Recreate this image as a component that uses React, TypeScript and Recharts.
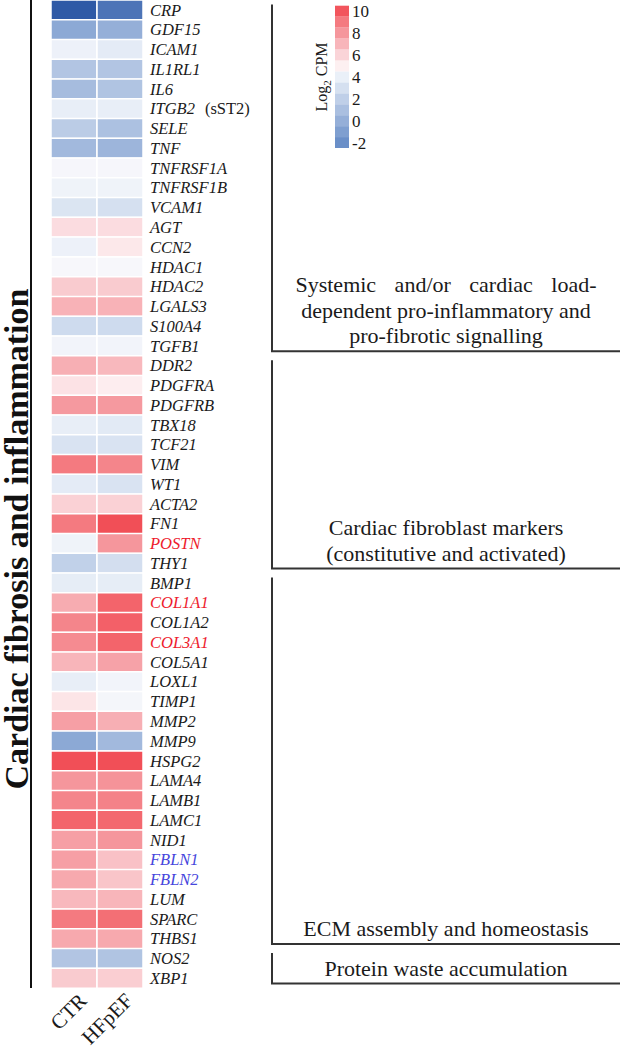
import React from 'react';
import { BarChart, Bar, XAxis, YAxis, Cell, ReferenceArea, ComposedChart, Scatter } from 'recharts';

const FONT = "'Liberation Serif', 'Times New Roman', serif";

const genes = ['CRP','GDF15','ICAM1','IL1RL1','IL6','ITGB2','SELE','TNF','TNFRSF1A','TNFRSF1B','VCAM1','AGT','CCN2','HDAC1','HDAC2','LGALS3','S100A4','TGFB1','DDR2','PDGFRA','PDGFRB','TBX18','TCF21','VIM','WT1','ACTA2','FN1','POSTN','THY1','BMP1','COL1A1','COL1A2','COL3A1','COL5A1','LOXL1','TIMP1','MMP2','MMP9','HSPG2','LAMA4','LAMB1','LAMC1','NID1','FBLN1','FBLN2','LUM','SPARC','THBS1','NOS2','XBP1'];

const groupNames = ['CTR', 'HFpEF'];

const ctrValues = [-4.8, -0.4, 4.1, 1.4, 0.8, 3.9, 1.8, 0.6, 4.45, 4.2, 3.3, 5.7, 4.1, 4.5, 6.3, 7.1, 2.7, 4.3, 7.2, 5.5, 7.9, 3.9, 3.2, 9.0, 3.7, 6.1, 9.0, 4.2, 2.1, 3.8, 7.3, 8.6, 8.4, 7.0, 3.9, 5.4, 7.7, -0.4, 10.3, 8.0, 8.6, 9.6, 7.7, 7.7, 7.4, 6.9, 9.0, 7.4, 1.4, 6.3];
const hfpefValues = [-3.4, 0.0, 3.7, 1.4, 1.3, 3.9, 1.1, 0.4, 4.45, 4.2, 3.0, 5.7, 5.3, 4.5, 6.3, 7.1, 2.7, 4.3, 6.9, 5.1, 7.9, 3.6, 3.2, 8.6, 3.2, 6.1, 10.3, 8.0, 2.9, 3.8, 9.6, 9.7, 9.6, 7.6, 4.3, 4.4, 7.2, 0.6, 10.3, 8.1, 8.7, 9.5, 8.0, 6.6, 6.5, 7.0, 9.3, 7.4, 1.3, 6.2];

const redLabels = ['POSTN', 'COL1A1', 'COL3A1'];
const blueLabels = ['FBLN1', 'FBLN2'];
const labelNotes: Record<string, string> = { ITGB2: '(sST2)' };

const sectionFirst = ['CRP', 'DDR2', 'BMP1', 'NOS2'];
const sectionLast = ['TGFB1', 'THY1', 'THBS1', 'XBP1'];
const sectionLabels = [
  ['Systemic and/or cardiac load-', 'dependent pro-inflammatory and', 'pro-fibrotic signalling'],
  ['Cardiac fibroblast markers', '(constitutive and activated)'],
  ['ECM assembly and homeostasis'],
  ['Protein waste accumulation'],
];
const title = 'Cardiac fibrosis and inflammation';

const legendSteps = [-2, -1, 0, 1, 2, 3, 4, 5, 6, 7, 8, 9, 10];
const legendTicks = [-2, 0, 2, 4, 6, 8, 10];

const colorStops: [number, string][] = [
  [-5, '#2b56a4'], [-2, '#6a8fc8'], [-1, '#7f9fd0'], [0, '#95afd8'], [1, '#aabfe0'],
  [2, '#bfcfe8'], [3, '#d5e0f0'], [4, '#eaf0f8'], [4.5, '#f7f7fb'], [5, '#fdf0f1'],
  [6, '#fad4d8'], [7, '#f8b5ba'], [8, '#f5969c'], [9, '#f47a80'], [10, '#f2555d'], [11, '#ef4249'],
];

function hexToRgb(h: string) {
  return [1, 3, 5].map((k) => parseInt(h.slice(k, k + 2), 16));
}

function heatColor(v: number) {
  if (v <= colorStops[0][0]) return colorStops[0][1];
  if (v >= colorStops[colorStops.length - 1][0]) return colorStops[colorStops.length - 1][1];
  for (let i = 0; i < colorStops.length - 1; i++) {
    const [a, ca] = colorStops[i];
    const [b, cb] = colorStops[i + 1];
    if (v >= a && v <= b) {
      const t = (v - a) / (b - a);
      const A = hexToRgb(ca);
      const B = hexToRgb(cb);
      const c = A.map((x, k) => Math.round(x + (B[k] - x) * t));
      return `rgb(${c[0]},${c[1]},${c[2]})`;
    }
  }
  return '#fff';
}

const rows = genes.map((g, i) => ({ gene: g, ctr: ctrValues[i], hfpef: hfpefValues[i] }));
const legendRows = legendSteps.map((v) => ({ x: 0.5, v }));

const GeneTick = (props: any) => {
  const { x, y, payload } = props;
  const g = payload.value as string;
  const fill = redLabels.includes(g) ? '#ee1c2e' : blueLabels.includes(g) ? '#4646dc' : '#1a1a1a';
  const note = labelNotes[g];
  return (
    <text x={x} y={y} dy="0.35em" fontFamily={FONT} fontSize={16.5} fontStyle="italic" fill={fill} textAnchor="start">
      {g}
      {note ? <tspan fontStyle="normal" dx={10} fill="#1a1a1a">{note}</tspan> : null}
    </text>
  );
};

const GroupTick = (props: any) => {
  const { x, y, payload } = props;
  const label = groupNames[Math.floor(payload.value)];
  const px = x + 14;
  const py = y + 14;
  return (
    <text x={px} y={py} textAnchor="end" transform={`rotate(-45 ${px} ${py})`} fontFamily={FONT} fontSize={21} fill="#1a1a1a">
      {label}
    </text>
  );
};

const makeBracket = (gi: number) => (p: any) => {
  const top = p.y + 4.5;
  const bottom = p.y + p.height - 4.5;
  const lines = sectionLabels[gi];
  return (
    <g>
      <path d={`M272,${top}V${bottom}H620`} stroke="#333" strokeWidth={2} fill="none" />
      {lines.map((t, k) => (
        <text key={k} x={446} y={bottom - 8 - (lines.length - 1 - k) * 25.5} textAnchor="middle" fontFamily={FONT} fontSize={22} fill="#1a1a1a" wordSpacing={gi === 0 && k === 0 ? 13 : 0}>
          {t}
        </text>
      ))}
    </g>
  );
};

const titleShape = (p: any) => {
  const cy = p.y + p.height / 2 + 45;
  return (
    <g>
      <path d={`M31,${p.y}V${p.y + p.height}`} stroke="#111" strokeWidth={2} fill="none" />
      <text x={28} y={cy} transform={`rotate(-90 28 ${cy})`} textAnchor="middle" fontFamily={FONT} fontWeight="bold" fontSize={34} fill="#111">
        {title}
      </text>
    </g>
  );
};

export default function App() {
  return (
    <div style={{ position: 'absolute', left: 0, top: 0, width: 620, height: 1050, background: '#fff' }}>
      <div style={{ position: 'absolute', left: 0, top: 0 }}>
        <BarChart width={620} height={1050} data={rows} layout="vertical" margin={{ top: 0, right: 0, bottom: 0, left: 51 }} barCategoryGap={0}>
          <XAxis type="number" domain={[0, 2]} ticks={[0.5, 1.5]} height={62} axisLine={false} tickLine={false} tickSize={0} tickMargin={0} interval={0} tick={<GroupTick />} />
          <YAxis type="category" dataKey="gene" orientation="right" width={477} axisLine={false} tickLine={false} tickSize={0} tickMargin={7} interval={0} tick={<GeneTick />} />
          <Bar dataKey={() => 1} stackId="s" isAnimationActive={false}>
            {rows.map((r, i) => (
              <Cell key={i} fill={heatColor(r.ctr)} stroke="#fff" strokeWidth={1.5} />
            ))}
          </Bar>
          <Bar dataKey={() => 1} stackId="s" isAnimationActive={false}>
            {rows.map((r, i) => (
              <Cell key={i} fill={heatColor(r.hfpef)} stroke="#fff" strokeWidth={1.5} />
            ))}
          </Bar>
          {sectionFirst.map((f, gi) => (
            <ReferenceArea key={gi} y1={f} y2={sectionLast[gi]} ifOverflow="visible" shape={makeBracket(gi)} />
          ))}
          <ReferenceArea y1={genes[0]} y2={genes[genes.length - 1]} ifOverflow="visible" shape={titleShape} />
        </BarChart>
      </div>
      <div style={{ position: 'absolute', left: 300, top: 0 }}>
        <ComposedChart width={100} height={160} margin={{ top: 5.7, right: 0, bottom: 12, left: 35 }} data={legendRows}>
          <XAxis type="number" dataKey="x" domain={[0, 1]} hide />
          <YAxis type="number" dataKey="v" domain={[-2.5, 10.5]} ticks={legendTicks} orientation="right" width={51} axisLine={false} tickLine={false} tickSize={0} tickMargin={3} interval={0} tick={{ fontSize: 17, fill: '#1a1a1a', fontFamily: FONT }} />
          {legendSteps.map((v) => (
            <ReferenceArea key={v} y1={v - 0.5} y2={v + 0.5} fill={heatColor(v)} fillOpacity={1} stroke="none" ifOverflow="visible" />
          ))}
          <Scatter data={legendRows} dataKey="v" isAnimationActive={false} shape={() => <g />} />
          <text x={27} y={77} transform="rotate(-90 27 77)" textAnchor="middle" fontFamily={FONT} fontSize={16} fill="#1a1a1a">
            Log<tspan fontSize={11} dy={4}>2</tspan><tspan dy={-4}> CPM</tspan>
          </text>
        </ComposedChart>
      </div>
    </div>
  );
}
